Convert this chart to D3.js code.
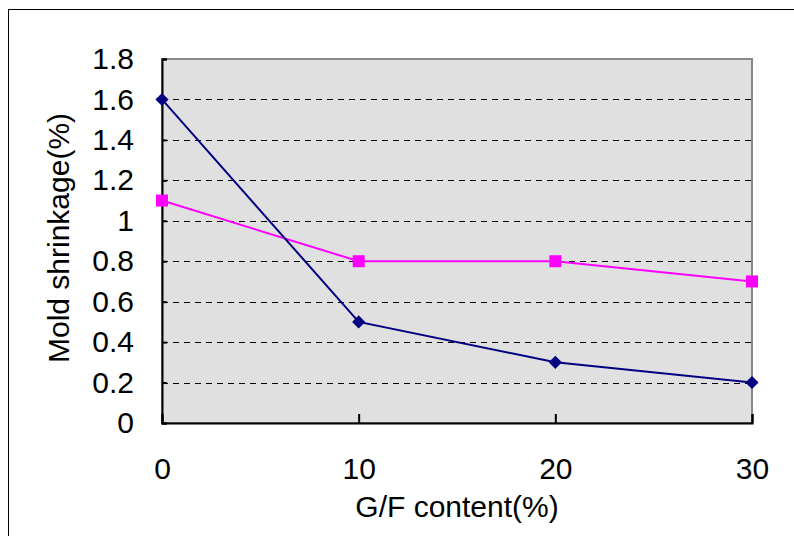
<!DOCTYPE html>
<html>
<head>
<meta charset="utf-8">
<script src="https://cdn.jsdelivr.net/npm/d3@7/dist/d3.min.js"></script>
<style>
  body { margin: 0; background: #fff; }
  text { font-family: "Liberation Sans", Arial, sans-serif; fill: #000; }
</style>
</head>
<body>
<svg id="chart" width="794" height="536"></svg>
<script>
// data
const gfContent = [0, 10, 20, 30];
const seriesDiamond = [1.6, 0.5, 0.3, 0.2];
const seriesSquare = [1.1, 0.8, 0.8, 0.7];
const yTicks = [0, 0.2, 0.4, 0.6, 0.8, 1, 1.2, 1.4, 1.6, 1.8];
const xTicks = [0, 10, 20, 30];

const svg = d3.select('#chart');
const width = 794;
const height = 536;
const margin = { top: 59, right: 42, bottom: 113, left: 162 };

// outer frame
svg.append('rect')
  .attr('x', 8.5).attr('y', 9.5)
  .attr('width', 800).attr('height', 600)
  .attr('fill', 'none').attr('stroke', '#000').attr('stroke-width', 1);

const x = d3.scaleLinear().domain([0, 30]).range([margin.left, width - margin.right]);
const y = d3.scaleLinear().domain([0, 1.8]).range([height - margin.bottom, margin.top]);

// plot area
svg.append('rect')
  .attr('x', x(0)).attr('y', y(1.8))
  .attr('width', x(30) - x(0)).attr('height', y(0) - y(1.8))
  .attr('fill', '#e0e0e0')
  .attr('stroke', '#888').attr('stroke-width', 2);

// gridlines
svg.append('g')
  .selectAll('line')
  .data(yTicks.filter(d => d > 0 && d < 1.8))
  .enter().append('line')
  .attr('x1', x(0)).attr('x2', x(30))
  .attr('y1', d => Math.round(y(d)) + 0.5).attr('y2', d => Math.round(y(d)) + 0.5)
  .attr('stroke', '#000').attr('stroke-width', 1)
  .attr('stroke-dasharray', '6,5');

// axes
const yAxis = svg.append('g')
  .attr('transform', `translate(${x(0)},0)`)
  .call(d3.axisLeft(y).tickValues(yTicks).tickSize(-5).tickPadding(28).tickFormat(d3.format('~g')));
const xAxis = svg.append('g')
  .attr('transform', `translate(0,${y(0)})`)
  .call(d3.axisBottom(x).tickValues(xTicks).tickSize(-9).tickPadding(35));

[xAxis, yAxis].forEach(a => {
  a.select('.domain').attr('stroke', '#000').attr('stroke-width', 2);
  a.selectAll('.tick line').attr('stroke', '#000').attr('stroke-width', 2);
  a.selectAll('.tick text').style('font-size', '30px').attr('fill', '#000')
    .style('font-family', '"Liberation Sans", Arial, sans-serif');
});

// series
const line = d3.line().x(d => x(d[0])).y(d => y(d[1]));

const magenta = gfContent.map((g, i) => [g, seriesSquare[i]]);
const navy = gfContent.map((g, i) => [g, seriesDiamond[i]]);

svg.append('path').datum(magenta).attr('d', line)
  .attr('fill', 'none').attr('stroke', '#ff00ff').attr('stroke-width', 2);
svg.append('path').datum(navy).attr('d', line)
  .attr('fill', 'none').attr('stroke', '#000080').attr('stroke-width', 2);

svg.selectAll('.sq')
  .data(magenta)
  .enter().append('rect')
  .attr('class', 'sq')
  .attr('x', d => x(d[0]) - 6).attr('y', d => y(d[1]) - 6)
  .attr('width', 12).attr('height', 12)
  .attr('fill', '#ff00ff');

svg.selectAll('.dm')
  .data(navy)
  .enter().append('path')
  .attr('class', 'dm')
  .attr('d', d3.symbol().type(d3.symbolDiamond2).size(110))
  .attr('transform', d => `translate(${x(d[0])},${y(d[1])})`)
  .attr('fill', '#000080');

// axis titles
svg.append('text')
  .attr('x', (x(0) + x(30)) / 2).attr('y', 517)
  .attr('text-anchor', 'middle')
  .style('font-size', '30px')
  .text('G/F content(%)');

svg.append('text')
  .attr('transform', `translate(69,${(y(0) + y(1.8)) / 2 - 3}) rotate(-90)`)
  .attr('text-anchor', 'middle')
  .style('font-size', '30px')
  .text('Mold shrinkage(%)');
</script>
</body>
</html>
